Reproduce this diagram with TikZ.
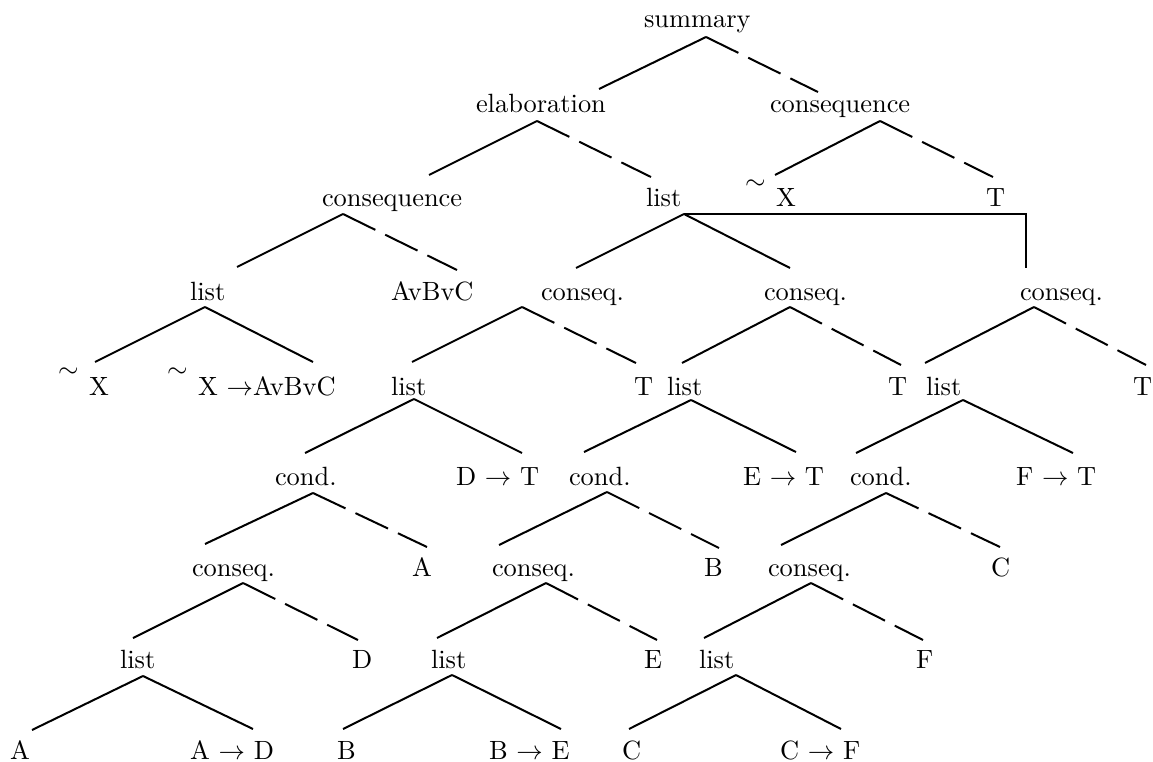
\documentclass[tikz,border=0pt]{standalone}
\usepackage{graphicx}
\newcommand{\Lbl}[1]{\scalebox{2.64}{#1}}
\newcommand{\Ng}{\raisebox{6.6pt}{$\sim$}\hspace{4pt}}
\begin{document}
\begin{tikzpicture}[x=1pt,y=-1pt,
  lbl/.style={inner sep=0pt, outer sep=0pt, anchor=base west},
  edge/.style={line width=2pt},
  dedge/.style={line width=2pt, dash pattern=on 36pt off 11pt},
  bracket/.style={line width=1.5pt}]
\useasboundingbox (0,0) rectangle (1153,762);
% ---------- labels ----------
\node[lbl] (summary) at (644,28) {\Lbl{summary}};
\node[lbl] (elab) at (476,113) {\Lbl{elaboration}};
\node[lbl] (conseqR) at (770,113) {\Lbl{consequence}};
\node[lbl] (consL) at (322,207) {\Lbl{consequence}};
\node[lbl] (listA) at (646,207) {\Lbl{list}};
\node[lbl] (negX1) at (745,207) {\Lbl{\Ng X}};
\node[lbl] (T1) at (986,207) {\Lbl{T}};
\node[lbl] (listL) at (190,300) {\Lbl{list}};
\node[lbl] (AvBvC) at (391,300) {\Lbl{AvBvC}};
\node[lbl] (conseq1) at (541,300) {\Lbl{conseq.}};
\node[lbl] (conseq2) at (764,300) {\Lbl{conseq.}};
\node[lbl] (conseq3) at (1020,300) {\Lbl{conseq.}};
\node[lbl] (negX2) at (58,395) {\Lbl{\Ng X}};
\node[lbl] (negImpl) at (167,395) {\Lbl{\Ng X $\rightarrow$AvBvC}};
\node[lbl] (list2) at (391,395) {\Lbl{list}};
\node[lbl] (T2) at (634,395) {\Lbl{T}};
\node[lbl] (list3) at (667,395) {\Lbl{list}};
\node[lbl] (T3) at (888,395) {\Lbl{T}};
\node[lbl] (list4) at (926,395) {\Lbl{list}};
\node[lbl] (T4) at (1133,395) {\Lbl{T}};
\node[lbl] (cond1) at (275,485) {\Lbl{cond.}};
\node[lbl] (DT) at (456,485) {\Lbl{D $\rightarrow$ T}};
\node[lbl] (cond2) at (569,485) {\Lbl{cond.}};
\node[lbl] (ET) at (743,485) {\Lbl{E $\rightarrow$ T}};
\node[lbl] (cond3) at (850,485) {\Lbl{cond.}};
\node[lbl] (FT) at (1016,485) {\Lbl{F $\rightarrow$ T}};
\node[lbl] (cq1) at (192,576) {\Lbl{conseq.}};
\node[lbl] (A1) at (412,576) {\Lbl{A}};
\node[lbl] (cq2) at (492,576) {\Lbl{conseq.}};
\node[lbl] (B1) at (704,576) {\Lbl{B}};
\node[lbl] (cq3) at (768,576) {\Lbl{conseq.}};
\node[lbl] (C1) at (991,576) {\Lbl{C}};
\node[lbl] (l1) at (120,668) {\Lbl{list}};
\node[lbl] (D) at (352,668) {\Lbl{D}};
\node[lbl] (l2) at (431,668) {\Lbl{list}};
\node[lbl] (E) at (644,668) {\Lbl{E}};
\node[lbl] (l3) at (699,668) {\Lbl{list}};
\node[lbl] (F) at (916,668) {\Lbl{F}};
\node[lbl] (A) at (10,759) {\Lbl{A}};
\node[lbl] (AD) at (190,759) {\Lbl{A $\rightarrow$ D}};
\node[lbl] (B) at (337,759) {\Lbl{B}};
\node[lbl] (BE) at (489,759) {\Lbl{B $\rightarrow$ E}};
\node[lbl] (C) at (622,759) {\Lbl{C}};
\node[lbl] (CF) at (780,759) {\Lbl{C $\rightarrow$ F}};
% ---------- connector end points ----------
\coordinate (summary-a) at (706,37); \coordinate (elab-t) at (599,89); \coordinate (conseqR-t) at (818,92);
\coordinate (elab-a) at (537,121); \coordinate (consL-t) at (429,175); \coordinate (listA-t) at (651,177);
\coordinate (conseqR-a) at (880,121); \coordinate (negX1-t) at (775,175); \coordinate (T1-t) at (993,177);
\coordinate (consL-a) at (343,214); \coordinate (listL-t) at (237,267); \coordinate (AvBvC-t) at (457,270);
\coordinate (listA-a) at (684,214); \coordinate (conseq1-t) at (576,268); \coordinate (conseq2-t) at (790,268); \coordinate (conseq3-t) at (1026,268);
\coordinate (listL-a) at (205,307); \coordinate (negX2-t) at (95,362); \coordinate (negImpl-t) at (313,362);
\coordinate (conseq1-a) at (522,307); \coordinate (list2-t) at (412,362); \coordinate (T2-t) at (636,363);
\coordinate (conseq2-a) at (790,307); \coordinate (list3-t) at (682,363); \coordinate (T3-t) at (901,365);
\coordinate (conseq3-a) at (1034,307); \coordinate (list4-t) at (925,363); \coordinate (T4-t) at (1146,365);
\coordinate (list2-a) at (414,399); \coordinate (cond1-t) at (305,453); \coordinate (DT-t) at (522,453);
\coordinate (list3-a) at (691,400); \coordinate (cond2-t) at (584,452); \coordinate (ET-t) at (796,452);
\coordinate (list4-a) at (963,400); \coordinate (cond3-t) at (856,453); \coordinate (FT-t) at (1073,453);
\coordinate (cond1-a) at (313,493); \coordinate (cq1-t) at (205,544); \coordinate (A1-t) at (427,547);
\coordinate (cond2-a) at (607,492); \coordinate (cq2-t) at (499,545); \coordinate (B1-t) at (719,548);
\coordinate (cond3-a) at (886,493); \coordinate (cq3-t) at (781,545); \coordinate (C1-t) at (1000,547);
\coordinate (cq1-a) at (243,583); \coordinate (l1-t) at (133,638); \coordinate (D-t) at (358,640);
\coordinate (cq2-a) at (546,583); \coordinate (l2-t) at (437,638); \coordinate (E-t) at (657,640);
\coordinate (cq3-a) at (811,583); \coordinate (l3-t) at (704,638); \coordinate (F-t) at (923,640);
\coordinate (l1-a) at (143,676); \coordinate (A-t) at (32,730); \coordinate (AD-t) at (253,729);
\coordinate (l2-a) at (452,675); \coordinate (B-t) at (343,729); \coordinate (BE-t) at (561,729);
\coordinate (l3-a) at (736,675); \coordinate (C-t) at (629,729); \coordinate (CF-t) at (841,729);
% ---------- connectors ----------
\draw[edge] (summary-a) -- (elab-t);   \draw[dedge] (summary-a) -- (conseqR-t);
\draw[edge] (elab-a) -- (consL-t);     \draw[dedge] (elab-a) -- (listA-t);
\draw[edge] (conseqR-a) -- (negX1-t);  \draw[dedge] (conseqR-a) -- (T1-t);
\draw[edge] (consL-a) -- (listL-t);    \draw[dedge] (consL-a) -- (AvBvC-t);
\draw[edge] (listA-a) -- (conseq1-t);  \draw[edge] (listA-a) -- (conseq2-t);
\draw[bracket] (listA-a) -| (conseq3-t);
\draw[edge] (listL-a) -- (negX2-t);    \draw[edge] (listL-a) -- (negImpl-t);
\draw[edge] (conseq1-a) -- (list2-t);  \draw[dedge] (conseq1-a) -- (T2-t);
\draw[edge] (conseq2-a) -- (list3-t);  \draw[dedge] (conseq2-a) -- (T3-t);
\draw[edge] (conseq3-a) -- (list4-t);  \draw[dedge] (conseq3-a) -- (T4-t);
\draw[edge] (list2-a) -- (cond1-t);    \draw[edge] (list2-a) -- (DT-t);
\draw[edge] (list3-a) -- (cond2-t);    \draw[edge] (list3-a) -- (ET-t);
\draw[edge] (list4-a) -- (cond3-t);    \draw[edge] (list4-a) -- (FT-t);
\draw[edge] (cond1-a) -- (cq1-t);      \draw[dedge] (cond1-a) -- (A1-t);
\draw[edge] (cond2-a) -- (cq2-t);      \draw[dedge] (cond2-a) -- (B1-t);
\draw[edge] (cond3-a) -- (cq3-t);      \draw[dedge] (cond3-a) -- (C1-t);
\draw[edge] (cq1-a) -- (l1-t);         \draw[dedge] (cq1-a) -- (D-t);
\draw[edge] (cq2-a) -- (l2-t);         \draw[dedge] (cq2-a) -- (E-t);
\draw[edge] (cq3-a) -- (l3-t);         \draw[dedge] (cq3-a) -- (F-t);
\draw[edge] (l1-a) -- (A-t);           \draw[edge] (l1-a) -- (AD-t);
\draw[edge] (l2-a) -- (B-t);           \draw[edge] (l2-a) -- (BE-t);
\draw[edge] (l3-a) -- (C-t);           \draw[edge] (l3-a) -- (CF-t);
\end{tikzpicture}
\end{document}
